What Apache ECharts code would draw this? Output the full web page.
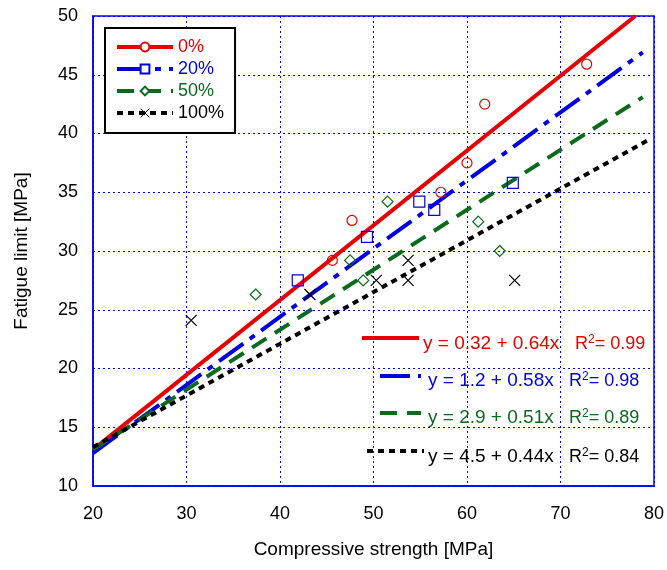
<!DOCTYPE html>
<html>
<head>
<meta charset="utf-8">
<script src="https://cdn.jsdelivr.net/npm/echarts@6/dist/echarts.min.js"></script>
<style>html,body{margin:0;padding:0;background:#fff}#c{width:667px;height:570px}</style>
</head>
<body>
<div id="c"></div>
<script>
// ---- data ----
const xTicks = [20, 30, 40, 50, 60, 70, 80];
const yTicks = [10, 15, 20, 25, 30, 35, 40, 45, 50];
const seriesNames = ['0%', '20%', '50%', '100%'];

const x0 = [45.6, 47.7, 57.2, 60.0, 61.9, 72.8];
const y0 = [29.2, 32.6, 35.0, 37.5, 42.5, 45.9];
const x20 = [41.9, 49.3, 54.9, 56.5, 64.9];
const y20 = [27.5, 31.2, 34.2, 33.5, 35.8];
const x50 = [37.4, 47.5, 48.9, 51.5, 61.2, 63.5];
const y50 = [26.3, 29.2, 27.5, 34.2, 32.5, 30.0];
const x100 = [30.5, 43.2, 50.3, 53.7, 53.7, 65.1];
const y100 = [24.1, 26.3, 27.5, 29.2, 27.5, 27.5];

// fitted lines: endpoints
const fit0 = [[20, 13.1], [78.0, 50.0]];
const fit20 = [[20, 12.8], [78.8, 46.9]];
const fit50 = [[20, 13.1], [78.8, 43.1]];
const fit100 = [[20, 13.3], [79.3, 39.4]];

const eqTexts = ['y = 0.32 + 0.64x', 'y = 1.2 + 0.58x', 'y = 2.9 + 0.51x', 'y = 4.5 + 0.44x'];
const r2Texts = ['0.99', '0.98', '0.89', '0.84'];

// ---- styles ----
const FONT = '"Liberation Sans", Arial, sans-serif';
const RED = '#e60000', BLUE = '#0000e0', GREEN = '#0b6a1c', BLACK = '#000000';
const colors = [RED, BLUE, GREEN, BLACK];
const dashes = [null, [30, 8, 6, 8], [17, 10], [6, 5]];
const GRIDBLUE = '#0000ff';
const CROSS = 'path://M0,0L10,10M10,0L0,10';

function pairs(xs, ys) { return xs.map((x, i) => [x, ys[i]]); }

const chart = echarts.init(document.getElementById('c'), null, {renderer: 'canvas'});

const lineSeries = [fit0, fit20, fit50, fit100].map((d, i) => ({
  name: seriesNames[i],
  type: 'line',
  data: d,
  showSymbol: false,
  symbol: ['emptyCircle', 'emptyRect', 'emptyDiamond', CROSS][i],
  symbolSize: 9,
  silent: true,
  z: 2,
  itemStyle: {color: colors[i], borderColor: colors[i], borderWidth: i === 3 ? 1.5 : 1},
  lineStyle: {color: colors[i], width: 4, type: dashes[i] || 'solid', cap: 'butt'}
}));

const scatterSeries = [[x0, y0], [x20, y20], [x50, y50], [x100, y100]].map((p, i) => ({
  name: 'pts' + i,
  type: 'scatter',
  data: pairs(p[0], p[1]),
  symbol: ['circle', 'rect', 'diamond', CROSS][i],
  symbolSize: [10, 11, 11, 11][i],
  z: 3,
  itemStyle: {color: 'none', borderColor: colors[i], borderWidth: 1.2, opacity: 1}
}));

// equation block (annotation)
const eqRows = [
  {lx1: 362, lx2: 419, ly: 338, tx: 423, ty: 344, rx: 575},
  {lx1: 380, lx2: 421, ly: 376, tx: 428, ty: 381, rx: 569},
  {lx1: 380, lx2: 421, ly: 413, tx: 428, ty: 418, rx: 569},
  {lx1: 367, lx2: 424, ly: 451, tx: 428, ty: 457, rx: 569}
];
const graphics = [];
eqRows.forEach((r, i) => {
  graphics.push({
    type: 'line', silent: true, z: 10,
    shape: {x1: r.lx1, y1: r.ly, x2: r.lx2, y2: r.ly},
    style: {stroke: colors[i], lineWidth: 4, lineDash: dashes[i] || null, lineCap: 'butt'}
  });
  graphics.push({
    type: 'text', silent: true, z: 10, x: r.tx, y: r.ty,
    style: {text: eqTexts[i], fill: colors[i], font: '19px ' + FONT, verticalAlign: 'middle', align: 'left'}
  });
  graphics.push({
    type: 'text', silent: true, z: 10, x: r.rx, y: r.ty,
    style: {
      text: 'R{s|2}= ' + r2Texts[i], fill: colors[i], font: '18px ' + FONT,
      verticalAlign: 'middle', align: 'left', lineHeight: 20,
      rich: {s: {fontSize: 12, fontFamily: FONT, fill: colors[i], verticalAlign: 'top', lineHeight: 20, padding: [0, 0, 7, 0]}}
    }
  });
});

const option = {
  animation: false,
  backgroundColor: '#fff',
  grid: {left: 93, right: 12, top: 16, bottom: 84, show: true, borderColor: GRIDBLUE, borderWidth: 1.5, backgroundColor: 'transparent'},
  xAxis: {
    type: 'value', min: xTicks[0], max: xTicks[xTicks.length - 1], interval: 10,
    name: 'Compressive strength [MPa]', nameLocation: 'middle', nameGap: 54,
    nameTextStyle: {fontSize: 19, fontFamily: FONT, color: '#000'},
    axisLine: {show: true, lineStyle: {color: GRIDBLUE, width: 1.5}},
    axisTick: {show: false},
    axisLabel: {fontSize: 18, fontFamily: FONT, color: '#000', margin: 19},
    splitLine: {show: true, lineStyle: {color: GRIDBLUE, type: [2, 3], width: 1}}
  },
  yAxis: {
    type: 'value', min: yTicks[0], max: yTicks[yTicks.length - 1], interval: 5,
    name: 'Fatigue limit [MPa]', nameLocation: 'middle', nameGap: 62, nameRotate: 90,
    nameTextStyle: {fontSize: 19, fontFamily: FONT, color: '#000'},
    axisLine: {show: true, lineStyle: {color: GRIDBLUE, width: 1.5}},
    axisTick: {show: false},
    axisLabel: {fontSize: 18, fontFamily: FONT, color: '#000', margin: 15},
    splitLine: {show: true, lineStyle: {color: GRIDBLUE, type: [2, 3], width: 1}}
  },
  legend: {
    left: 105, top: 28, orient: 'vertical',
    itemWidth: 56, itemHeight: 11, itemGap: 4,
    padding: [10, 11, 11, 10],
    borderColor: '#000', borderWidth: 2, borderRadius: 0, backgroundColor: '#fff',
    selectedMode: false,
    lineStyle: {width: 4},
    itemStyle: {borderWidth: 1},
    textStyle: {fontSize: 18, fontFamily: FONT, lineHeight: 18},
    data: seriesNames.map((n, i) => ({name: n, textStyle: {color: colors[i]}}))
  },
  series: lineSeries.concat(scatterSeries),
  graphic: graphics
};
chart.setOption(option);
</script>
</body>
</html>
